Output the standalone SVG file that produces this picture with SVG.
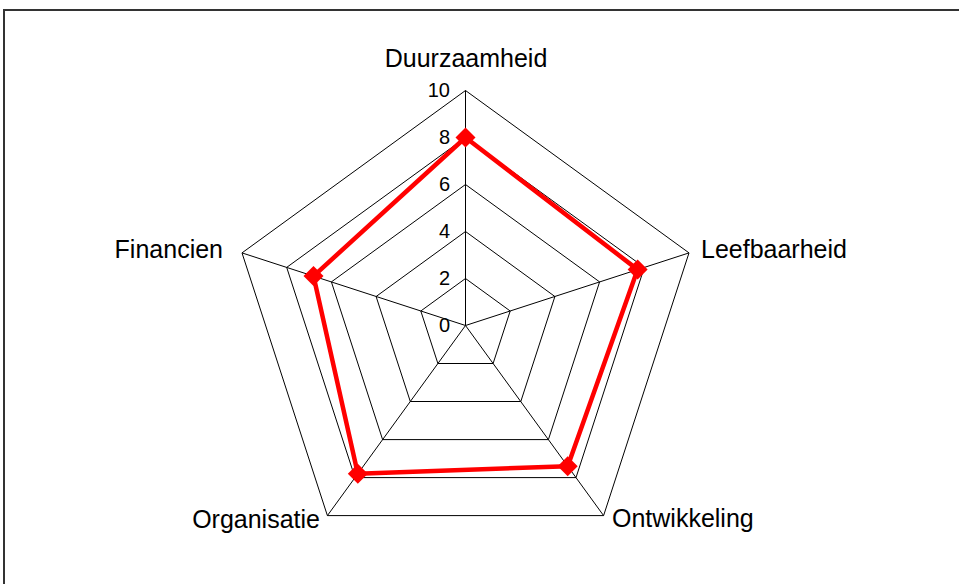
<svg xmlns="http://www.w3.org/2000/svg" width="959" height="584" viewBox="0 0 959 584">
  <style>
    .grid { fill: none; stroke: #000; stroke-width: 1; }
    .series { fill: none; stroke: #ff0000; stroke-width: 4.5; stroke-linejoin: round; }
    .marker { fill: #ff0000; }
    .cat { font-family: "Liberation Sans", Arial, sans-serif; font-size: 25px; fill: #000; }
    .tick { font-family: "Liberation Sans", Arial, sans-serif; font-size: 20px; fill: #000; text-anchor: end; }
  </style>
  <defs>
    <path id="diamond" d="M0,-10 L10,0 L0,10 L-10,0 Z"/>
  </defs>

  <rect width="959" height="584" fill="#fff"/>
  <!-- chart area frame -->
  <rect x="4" y="10" width="1000" height="620" fill="none" stroke="#333" stroke-width="2"/>

  <!-- radar grid: rings at 2,4,6,8,10 and five spokes -->
  <g id="grid">
    <polygon class="grid" points="465.5,278.5 510.2,311 493.1,363.5 437.9,363.5 420.8,311"/>
    <polygon class="grid" points="465.5,231.5 554.9,296.5 520.8,401.5 410.3,401.5 376.1,296.5"/>
    <polygon class="grid" points="465.5,184.5 599.6,281.9 548.4,439.6 382.6,439.6 331.4,281.9"/>
    <polygon class="grid" points="465.5,137.5 644.3,267.4 576,477.6 355,477.6 286.7,267.4"/>
    <polygon class="grid" points="465.5,90.5 689,252.9 603.6,515.6 327.4,515.6 242,252.9"/>
    <path class="grid" d="M465.5,325.5 L465.5,90.5 M465.5,325.5 L689,252.9 M465.5,325.5 L603.6,515.6 M465.5,325.5 L327.4,515.6 M465.5,325.5 L242,252.9"/>
  </g>

  <!-- value axis labels -->
  <g id="ticks">
    <text class="tick" x="450" y="96.5">10</text>
    <text class="tick" x="450" y="143.5">8</text>
    <text class="tick" x="450" y="190.5">6</text>
    <text class="tick" x="450" y="237.5">4</text>
    <text class="tick" x="450" y="284.5">2</text>
    <text class="tick" x="450" y="331.5">0</text>
  </g>

  <!-- category labels -->
  <g id="node-duurzaamheid"><text class="cat" x="466" y="66.5" text-anchor="middle">Duurzaamheid</text></g>
  <g id="node-leefbaarheid"><text class="cat" x="701" y="257.5">Leefbaarheid</text></g>
  <g id="node-ontwikkeling"><text class="cat" x="612" y="527">Ontwikkeling</text></g>
  <g id="node-organisatie"><text class="cat" x="320" y="527.5" text-anchor="end">Organisatie</text></g>
  <g id="node-financien"><text class="cat" x="223" y="257.5" text-anchor="end">Financien</text></g>

  <!-- data series -->
  <g id="connectors">
    <polygon class="series" points="465.5,137.5 637.6,269.6 567.7,466.2 357.8,473.8 313.5,276.1"/>
  </g>
  <g id="markers">
    <use href="#diamond" class="marker" x="465.5" y="137.5"/>
    <use href="#diamond" class="marker" x="637.6" y="269.6"/>
    <use href="#diamond" class="marker" x="567.7" y="466.2"/>
    <use href="#diamond" class="marker" x="357.8" y="473.8"/>
    <use href="#diamond" class="marker" x="313.5" y="276.1"/>
  </g>
</svg>
